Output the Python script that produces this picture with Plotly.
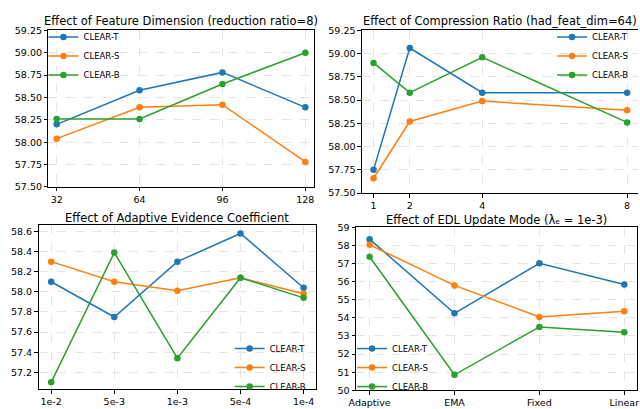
import plotly.graph_objects as go

W, H = 640, 409

series_names = ["CLEAR-T", "CLEAR-S", "CLEAR-B"]
colors = ["#1f77b4", "#ff7f0e", "#2ca02c"]

# Panel 1: feature dimension
feat_dims = [32, 64, 96, 128]
feat_T = [58.20, 58.58, 58.78, 58.39]
feat_S = [58.04, 58.39, 58.42, 57.78]
feat_B = [58.26, 58.26, 58.65, 59.00]

# Panel 2: compression ratio
ratios = [1, 2, 4, 8]
ratio_T = [57.75, 59.06, 58.58, 58.58]
ratio_S = [57.66, 58.27, 58.49, 58.39]
ratio_B = [58.90, 58.58, 58.96, 58.26]

# Panel 3: adaptive evidence coefficient
coef_labels = ["1e-2", "5e-3", "1e-3", "5e-4", "1e-4"]
coef_T = [58.10, 57.75, 58.30, 58.58, 58.04]
coef_S = [58.30, 58.10, 58.01, 58.14, 57.98]
coef_B = [57.10, 58.39, 57.34, 58.14, 57.94]

# Panel 4: EDL update mode
mode_labels = ["Adaptive", "EMA", "Fixed", "Linear"]
mode_T = [58.34, 54.25, 57.01, 55.84]
mode_S = [58.03, 55.79, 54.05, 54.37]
mode_B = [57.37, 50.86, 53.50, 53.21]

titles = [
    "Effect of Feature Dimension (reduction ratio=8)",
    "Effect of Compression Ratio (had_feat_dim=64)",
    "Effect of Adaptive Evidence Coefficient",
    "Effect of EDL Update Mode (λₑ = 1e-3)",
]
title_centers_y = [15.5, 15.5, 217.5, 219.5]

def px_x(p):
    return p / W

def px_y(p):
    return 1 - p / H

# plot-area boxes in pixels: (left, right, top, bottom)
boxes = [
    (42, 311, 25, 186),
    (360, 640, 25, 192.3),
    (32, 313, 225.5, 394),
    (354, 639, 227.3, 395),
]

panels = [
    (feat_dims, [feat_T, feat_S, feat_B]),
    (ratios, [ratio_T, ratio_S, ratio_B]),
    (coef_labels, [coef_T, coef_S, coef_B]),
    (mode_labels, [mode_T, mode_S, mode_B]),
]

fig = go.Figure()
legend_ids = ["legend", "legend2", "legend3", "legend4"]

for i, (xs, ys_list) in enumerate(panels):
    ax = "" if i == 0 else str(i + 1)
    for name, col, ys in zip(series_names, colors, ys_list):
        fig.add_trace(go.Scatter(
            x=xs, y=ys, name=name, mode="lines+markers",
            line=dict(color=col, width=1.5),
            marker=dict(color=col, size=6.5),
            xaxis="x" + ax, yaxis="y" + ax,
            legend=legend_ids[i],
        ))

font_family = "DejaVu Sans"
tick_font = dict(family=font_family, size=9.5, color="black")
grid_col = "#e4e4e4"

def axis_common():
    return dict(
        showline=True, linecolor="black", linewidth=1,
        ticks="outside", ticklen=3.5, tickwidth=0.8, tickcolor="black",
        tickfont=tick_font, showgrid=True, gridcolor=grid_col,
        griddash="dash", gridwidth=0.8, zeroline=False,
    )

layout = dict(
    width=W, height=H,
    margin=dict(l=0, r=0, t=0, b=0),
    paper_bgcolor="white", plot_bgcolor="white",
    font=dict(family=font_family, color="black"),
    showlegend=True,
)

x_ranges = [[28.8, 131.2], [0.68, 8.30], [-0.2, 4.19], [-0.16, 3.15]]
y_ranges = [[57.5, 59.25], [57.5, 59.25], [57.03, 58.66], [50, 59]]

for i, (l, r, t, b) in enumerate(boxes):
    ax = "" if i == 0 else str(i + 1)
    xa = axis_common()
    xa.update(domain=[px_x(l), px_x(r)], anchor="y" + ax, range=x_ranges[i], mirror=True)
    ya = axis_common()
    ya.update(domain=[px_y(b), px_y(t)], anchor="x" + ax, range=y_ranges[i],
              mirror=(i != 1))
    if i == 0:
        xa.update(tickvals=feat_dims)
        ya.update(tickvals=[57.5 + 0.25 * k for k in range(8)], tickformat=".2f")
    elif i == 1:
        xa.update(tickvals=ratios)
        ya.update(tickvals=[57.5 + 0.25 * k for k in range(8)], tickformat=".2f")
    elif i == 2:
        xa.update(type="category")
        ya.update(tickvals=[57.2 + 0.2 * k for k in range(8)], tickformat=".1f")
    else:
        xa.update(type="category")
        ya.update(tickvals=list(range(50, 60)))
    layout["xaxis" + ax] = xa
    layout["yaxis" + ax] = ya

legend_font = dict(family=font_family, size=8.5, color="black")
leg_common = dict(font=legend_font, bgcolor="rgba(255,255,255,0)", borderwidth=0,
                  itemwidth=30, tracegroupgap=0, xref="paper", yref="paper")
layout["legend"] = dict(x=px_x(37), y=px_y(17), xanchor="left", yanchor="top", **leg_common)
layout["legend2"] = dict(x=px_x(636), y=px_y(17), xanchor="right", yanchor="top", **leg_common)
layout["legend3"] = dict(x=px_x(309), y=px_y(406), xanchor="right", yanchor="bottom", **leg_common)
layout["legend4"] = dict(x=px_x(350), y=px_y(406), xanchor="left", yanchor="bottom", **leg_common)

fig.update_layout(**layout)

for i, (l, r, t, b) in enumerate(boxes):
    fig.add_annotation(
        text=titles[i], x=px_x((l + r) / 2), y=px_y(title_centers_y[i]),
        xref="paper", yref="paper", xanchor="center", yanchor="middle",
        showarrow=False, font=dict(family=font_family, size=11.5, color="black"),
    )

fig.write_html(
    "out.html",
    config={"displayModeBar": False},
    post_script="document.body.style.margin='0';document.body.style.overflow='hidden';",
)
